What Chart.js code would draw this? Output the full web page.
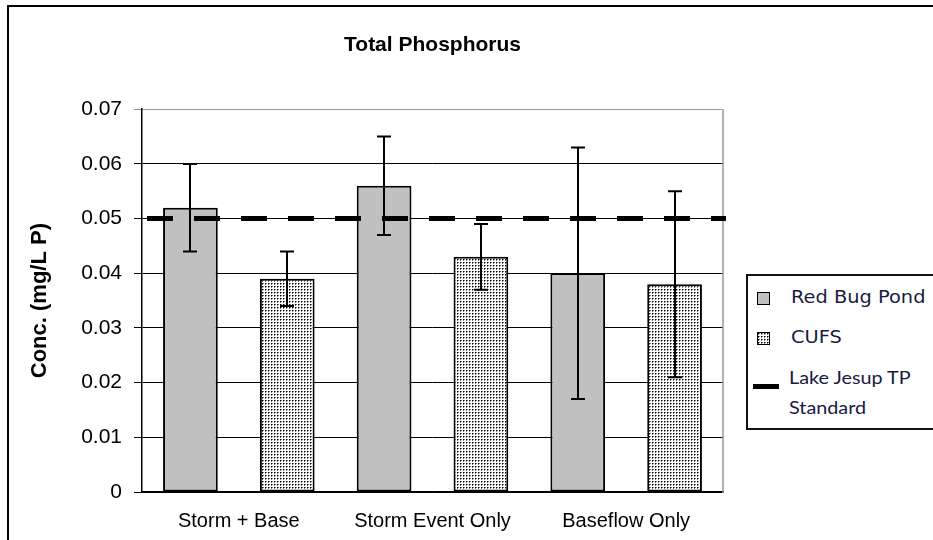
<!DOCTYPE html>
<html>
<head>
<meta charset="utf-8">
<script src="https://cdn.jsdelivr.net/npm/chart.js@4"></script>
<style>
  body { margin: 0; background: #fff; }
  #wrap { position: relative; width: 933px; height: 540px; overflow: hidden; }
  #frame { position: absolute; left: 7px; top: 5px; width: 1000px; height: 1000px; border: 2px solid #000; pointer-events: none; }
  #legend { position: absolute; left: 746px; top: 274px; width: 220px; height: 152px; border: 2px solid #111; background: #fff; }
  #legend .sw { position: absolute; }
  #legend .txt { position: absolute; color: #1a1a40; white-space: nowrap; transform-origin: 0 50%; }
</style>
</head>
<body>
<div id="wrap">
  <canvas id="chart" width="933" height="540"></canvas>
  <div id="frame"></div>
  <div id="legend">
    <div class="sw" style="left:9px;top:16px;width:11px;height:11px;background:#c0c0c0;border:1px solid #000"></div>
    <div class="txt" style="left:43px;top:11px;font:17px 'DejaVu Sans';transform:scaleX(1.14)">Red Bug Pond</div>
    <canvas class="sw" id="cufsSwatch" width="13" height="13" style="left:9px;top:56px"></canvas>
    <div class="txt" style="left:43px;top:51px;font:17px 'DejaVu Sans';transform:scaleX(1.14)">CUFS</div>
    <div class="sw" style="left:5px;top:108px;width:26px;height:5px;background:#000"></div>
    <div class="txt" style="left:41px;top:86px;font:18px Lato;line-height:30px;transform:scaleX(1.1)">Lake Jesup TP<br>Standard</div>
  </div>
</div>
<script>
const categories = ["Storm + Base", "Storm Event Only", "Baseflow Only"];
const redBugPond = [0.052, 0.056, 0.040];
const redBugLow = [0.044, 0.047, 0.017];
const redBugHigh = [0.060, 0.065, 0.063];
const cufs = [0.039, 0.043, 0.038];
const cufsLow = [0.034, 0.037, 0.021];
const cufsHigh = [0.044, 0.049, 0.055];
const tpStandard = 0.05;
const yTickLabels = ["0", "0.01", "0.02", "0.03", "0.04", "0.05", "0.06", "0.07"];

// dotted fill like the Excel pattern
function dotPattern(c) {
  const tile = document.createElement("canvas");
  tile.width = 3;
  tile.height = 3;
  const t = tile.getContext("2d");
  t.fillStyle = "#fff";
  t.fillRect(0, 0, 3, 3);
  t.fillStyle = "#777";
  t.fillRect(2, 1, 1, 1);
  t.fillRect(1, 2, 1, 1);
  t.fillStyle = "#000";
  t.fillRect(1, 1, 1, 1);
  return c.createPattern(tile, "repeat");
}

const sw = document.getElementById("cufsSwatch").getContext("2d");
sw.fillStyle = dotPattern(sw);
sw.fillRect(0, 0, 13, 13);
sw.strokeStyle = "#000";
sw.lineWidth = 1;
sw.strokeRect(0.5, 0.5, 12, 12);

// dashed standard line across the whole plot, placed by the y scale
const standardLine = {
  id: "standardLine",
  afterDatasetsDraw(chart) {
    const { ctx, chartArea } = chart;
    const yPix = chart.scales.y.getPixelForValue(tpStandard);
    ctx.save();
    ctx.strokeStyle = "#000";
    ctx.lineWidth = 5;
    ctx.setLineDash([26, 21]);
    ctx.lineDashOffset = 42;
    ctx.beginPath();
    ctx.moveTo(chartArea.left, yPix);
    ctx.lineTo(chartArea.right + 3, yPix);
    ctx.stroke();
    ctx.restore();
  },
};

const errorBars = {
  id: "errorBars",
  afterDatasetsDraw(chart) {
    const ctx = chart.ctx;
    const y = chart.scales.y;
    ctx.save();
    ctx.strokeStyle = "#000";
    ctx.lineWidth = 2;
    chart.data.datasets.forEach((ds, i) => {
      if (!ds.errLow) return;
      chart.getDatasetMeta(i).data.forEach((bar, j) => {
        const x = Math.round(bar.x);
        const lo = y.getPixelForValue(ds.errLow[j]);
        const hi = y.getPixelForValue(ds.errHigh[j]);
        ctx.beginPath();
        ctx.moveTo(x, lo);
        ctx.lineTo(x, hi);
        ctx.moveTo(x - 7, lo);
        ctx.lineTo(x + 7, lo);
        ctx.moveTo(x - 7, hi);
        ctx.lineTo(x + 7, hi);
        ctx.stroke();
      });
    });
    ctx.restore();
  },
};

const plotBorder = {
  id: "plotBorder",
  beforeDatasetsDraw(chart) {
    const { ctx, chartArea } = chart;
    ctx.save();
    ctx.strokeStyle = "#999";
    ctx.lineWidth = 1.5;
    ctx.beginPath();
    ctx.moveTo(chartArea.right, chartArea.top);
    ctx.lineTo(chartArea.right, chartArea.bottom + 1);
    ctx.stroke();
    ctx.restore();
  },
};

const canvas = document.getElementById("chart");
const cctx = canvas.getContext("2d");

new Chart(canvas, {
  type: "bar",
  data: {
    labels: categories,
    datasets: [
      {
        label: "Red Bug Pond",
        data: redBugPond,
        errLow: redBugLow,
        errHigh: redBugHigh,
        backgroundColor: "#c0c0c0",
        borderColor: "#000",
        borderWidth: 2,
        borderSkipped: false,
        categoryPercentage: 1.0,
        barPercentage: 0.565,
      },
      {
        label: "CUFS",
        data: cufs,
        errLow: cufsLow,
        errHigh: cufsHigh,
        backgroundColor: dotPattern(cctx),
        borderColor: "#000",
        borderWidth: 2,
        borderSkipped: false,
        categoryPercentage: 1.0,
        barPercentage: 0.565,
      },
    ],
  },
  options: {
    responsive: false,
    animation: false,
    layout: { padding: { left: 0, right: 210, top: 0, bottom: 0 } },
    plugins: {
      legend: { display: false },
      tooltip: { enabled: false },
      title: {
        display: true,
        text: "Total Phosphorus",
        fullSize: false,
        color: "#000",
        font: { family: "Liberation Sans", size: 21, weight: "bold" },
        padding: { top: 33, bottom: 51 },
      },
    },
    scales: {
      x: {
        type: "category",
        grid: { display: false, drawTicks: false },
        border: { display: true, color: "#000", width: 1.5 },
        ticks: { color: "#000", font: { family: "Liberation Sans", size: 20 }, padding: 17 },
        afterFit(s) { s.height = 48; },
      },
      y: {
        min: 0,
        max: 0.07,
        ticks: {
          stepSize: 0.01,
          color: "#000",
          font: { family: "Liberation Sans", size: 21 },
          padding: 12,
          callback: (v) => yTickLabels[Math.round(v * 100)],
        },
        grid: {
          color: (c) => (c.tick && c.tick.value > 0.0695 ? "#999" : "#000"),
          lineWidth: 1,
          tickLength: 8,
        },
        border: { color: "#000", width: 1.5 },
        title: {
          display: true,
          text: "Conc. (mg/L P)",
          color: "#000",
          font: { family: "Liberation Sans", size: 22, weight: "bold" },
          padding: { top: 27, bottom: 0 },
        },
        afterFit(s) { s.width = 142; },
      },
    },
  },
  plugins: [standardLine, errorBars, plotBorder],
});
</script>
</body>
</html>
